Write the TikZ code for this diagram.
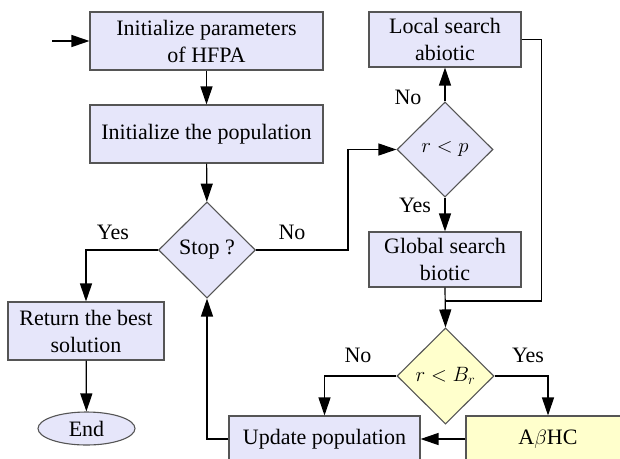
\documentclass[tikz,border=0pt]{standalone}
\usepackage{fontspec}
\setmainfont{Liberation Serif}
\newfontfamily\chartfont{Liberation Serif}
\usetikzlibrary{shapes.geometric,arrows.meta}
\definecolor{boxblue}{RGB}{230,230,250}
\definecolor{boxyellow}{RGB}{255,255,204}
\definecolor{edgegray}{RGB}{85,85,85}
\begin{document}
\begin{tikzpicture}[x=1pt,y=-1pt,
  procbox/.style={rectangle,draw=edgegray,line width=1.1pt,fill=boxblue,align=center,inner sep=0pt,font=\chartfont\fontsize{22}{27}\selectfont},
  decision/.style={diamond,draw=edgegray,line width=1.1pt,fill=boxblue,inner sep=0pt,align=center,font=\chartfont\fontsize{22}{27}\selectfont},
  terminal/.style={ellipse,draw=edgegray,line width=1.1pt,fill=boxblue,inner sep=0pt,font=\chartfont\fontsize{22}{27}\selectfont},
  flow/.style={line width=1.2pt,-{Triangle[length=18pt,width=12pt]}},
  plain/.style={line width=1.2pt},
  tag/.style={inner sep=0pt,font=\chartfont\fontsize{22}{27}\selectfont}]
\fill[white] (0,0) rectangle (620,458);
\useasboundingbox (0,0) rectangle (620,458);

% process boxes and decisions
\node[procbox,minimum width=233pt,minimum height=58pt] (init) at (206.5,41) {Initialize parameters\\of HFPA};
\node[procbox,minimum width=233pt,minimum height=58pt] (pop) at (206.5,134) {Initialize the population};
\node[decision,minimum width=97pt,minimum height=96pt] (stop) at (207,250) {Stop ?};
\node[procbox,minimum width=156pt,minimum height=58pt] (ret) at (86,331) {Return the best\\solution};
\node[terminal,minimum width=97pt,minimum height=33pt] (end) at (86.5,428.5) {End};
\node[decision,minimum width=96pt,minimum height=95pt] (rp) at (445,149.5) {$r < p$};
\node[procbox,minimum width=152pt,minimum height=55pt] (local) at (445,39.5) {Local search\\abiotic};
\node[procbox,minimum width=152pt,minimum height=55pt] (global) at (445,259.5) {Global search\\biotic};
\node[decision,fill=boxyellow,minimum width=97pt,minimum height=96pt] (rb) at (445.5,376) {$r < B_r$};
\node[procbox,minimum width=191pt,minimum height=46pt] (upd) at (324.5,439) {Update population};
\node[procbox,fill=boxyellow,minimum width=164pt,minimum height=46pt] (ahc) at (548,439) {A$\beta$HC};

% branch labels
\node[tag] (stopyes) at (113,232) {Yes};
\node[tag] (stopno) at (292,232) {No};
\node[tag] (rpno) at (408,97) {No};
\node[tag] (rpyes) at (415,205) {Yes};
\node[tag] (rbno) at (358,355) {No};
\node[tag] (rbyes) at (528,355) {Yes};

% connectors
\coordinate (entry) at (52,41);
\coordinate (merge) at (445,301);
\draw[flow] (entry) -- (init.west);
\draw[flow] (init) -- (pop);
\draw[flow] (pop) -- (stop);
\draw[flow] (stop.west) -| (ret.north);
\draw[flow] (ret) -- (end);
\draw[flow] (stop.east) -- ++(92,0) |- (rp.west);
\draw[flow] (rp.north) -- (local.south);
\draw[flow] (rp.south) -- (global.north);
\draw[plain] (local.east) -- ++(20,0) |- (merge);
\draw[flow] (global.south) -- (rb.north);
\draw[flow] (rb.west) -| (upd.north);
\draw[flow] (rb.east) -| (ahc.north);
\draw[flow] (ahc.west) -- (upd.east);
\draw[flow] (upd.west) -| (stop.south);
\end{tikzpicture}
\end{document}
